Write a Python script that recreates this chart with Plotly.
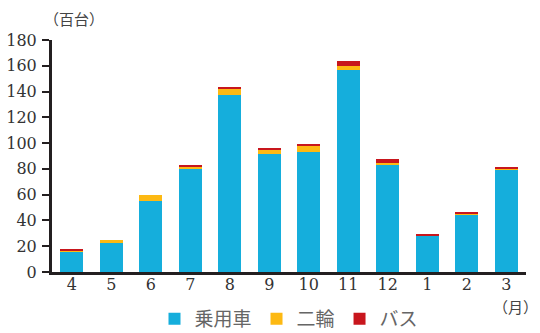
import plotly.graph_objects as go

months = ["4", "5", "6", "7", "8", "9", "10", "11", "12", "1", "2", "3"]
car = [16, 22.3, 55, 80, 137, 91.3, 93, 156.5, 83.6, 28.5, 44.8, 79.7]
moto = [1, 2.3, 4.6, 1.5, 5.5, 4, 4.6, 3.1, 0.8, 0.2, 0.8, 0.6]
bus = [0.8, 0, 0, 0.8, 0.8, 0.8, 1.6, 3.9, 3.1, 0.6, 0.8, 0.8]
y_ticks = [0, 20, 40, 60, 80, 100, 120, 140, 160, 180]

names = ["乗用車", "二輪", "バス"]
colors = ["#15AEDC", "#FDB913", "#C8161D"]
text_color = "#231F20"
serif = "DejaVu Serif"

fig = go.Figure()
for name, vals, c in zip(names, [car, moto, bus], colors):
    fig.add_trace(go.Bar(x=months, y=vals, name=name, marker=dict(color=c, line=dict(width=0)), width=0.58))

fig.update_layout(
    barmode="stack",
    width=540, height=333,
    margin=dict(l=52, r=14, t=40, b=61, autoexpand=False),
    paper_bgcolor="white", plot_bgcolor="white",
    font=dict(family=serif, size=16, color="#333333"),
    showlegend=True,
    legend=dict(orientation="h", x=0.5, xanchor="center", yref="container", y=0.042, yanchor="middle",
                font=dict(family="Noto Sans CJK JP", size=19, color="#666666"),
                itemwidth=30, traceorder="normal"),
    xaxis=dict(type="category", range=[-0.5, 11.5], showline=True, linewidth=3, linecolor=text_color,
               ticks="", showgrid=False, ticklabelstandoff=-4),
    yaxis=dict(range=[0, 180], tickvals=y_ticks, showline=True, linewidth=3, linecolor=text_color,
               ticks="outside", ticklen=7, tickwidth=2, tickcolor=text_color,
               showgrid=False, zeroline=False, ticklabelstandoff=2),
    annotations=[
        dict(text="（百台）", xref="paper", yref="paper", x=0, y=1.0, xshift=-10, yshift=22,
             xanchor="left", yanchor="middle", showarrow=False,
             font=dict(family="Noto Sans CJK JP", size=15, color="#444444")),
        dict(text="（月）", xref="paper", yref="paper", x=1.0, y=0, xshift=14, yshift=-34,
             xanchor="right", yanchor="middle", showarrow=False,
             font=dict(family="Noto Sans CJK JP", size=15, color="#444444")),
    ],
)

fig.write_html("out.html")
